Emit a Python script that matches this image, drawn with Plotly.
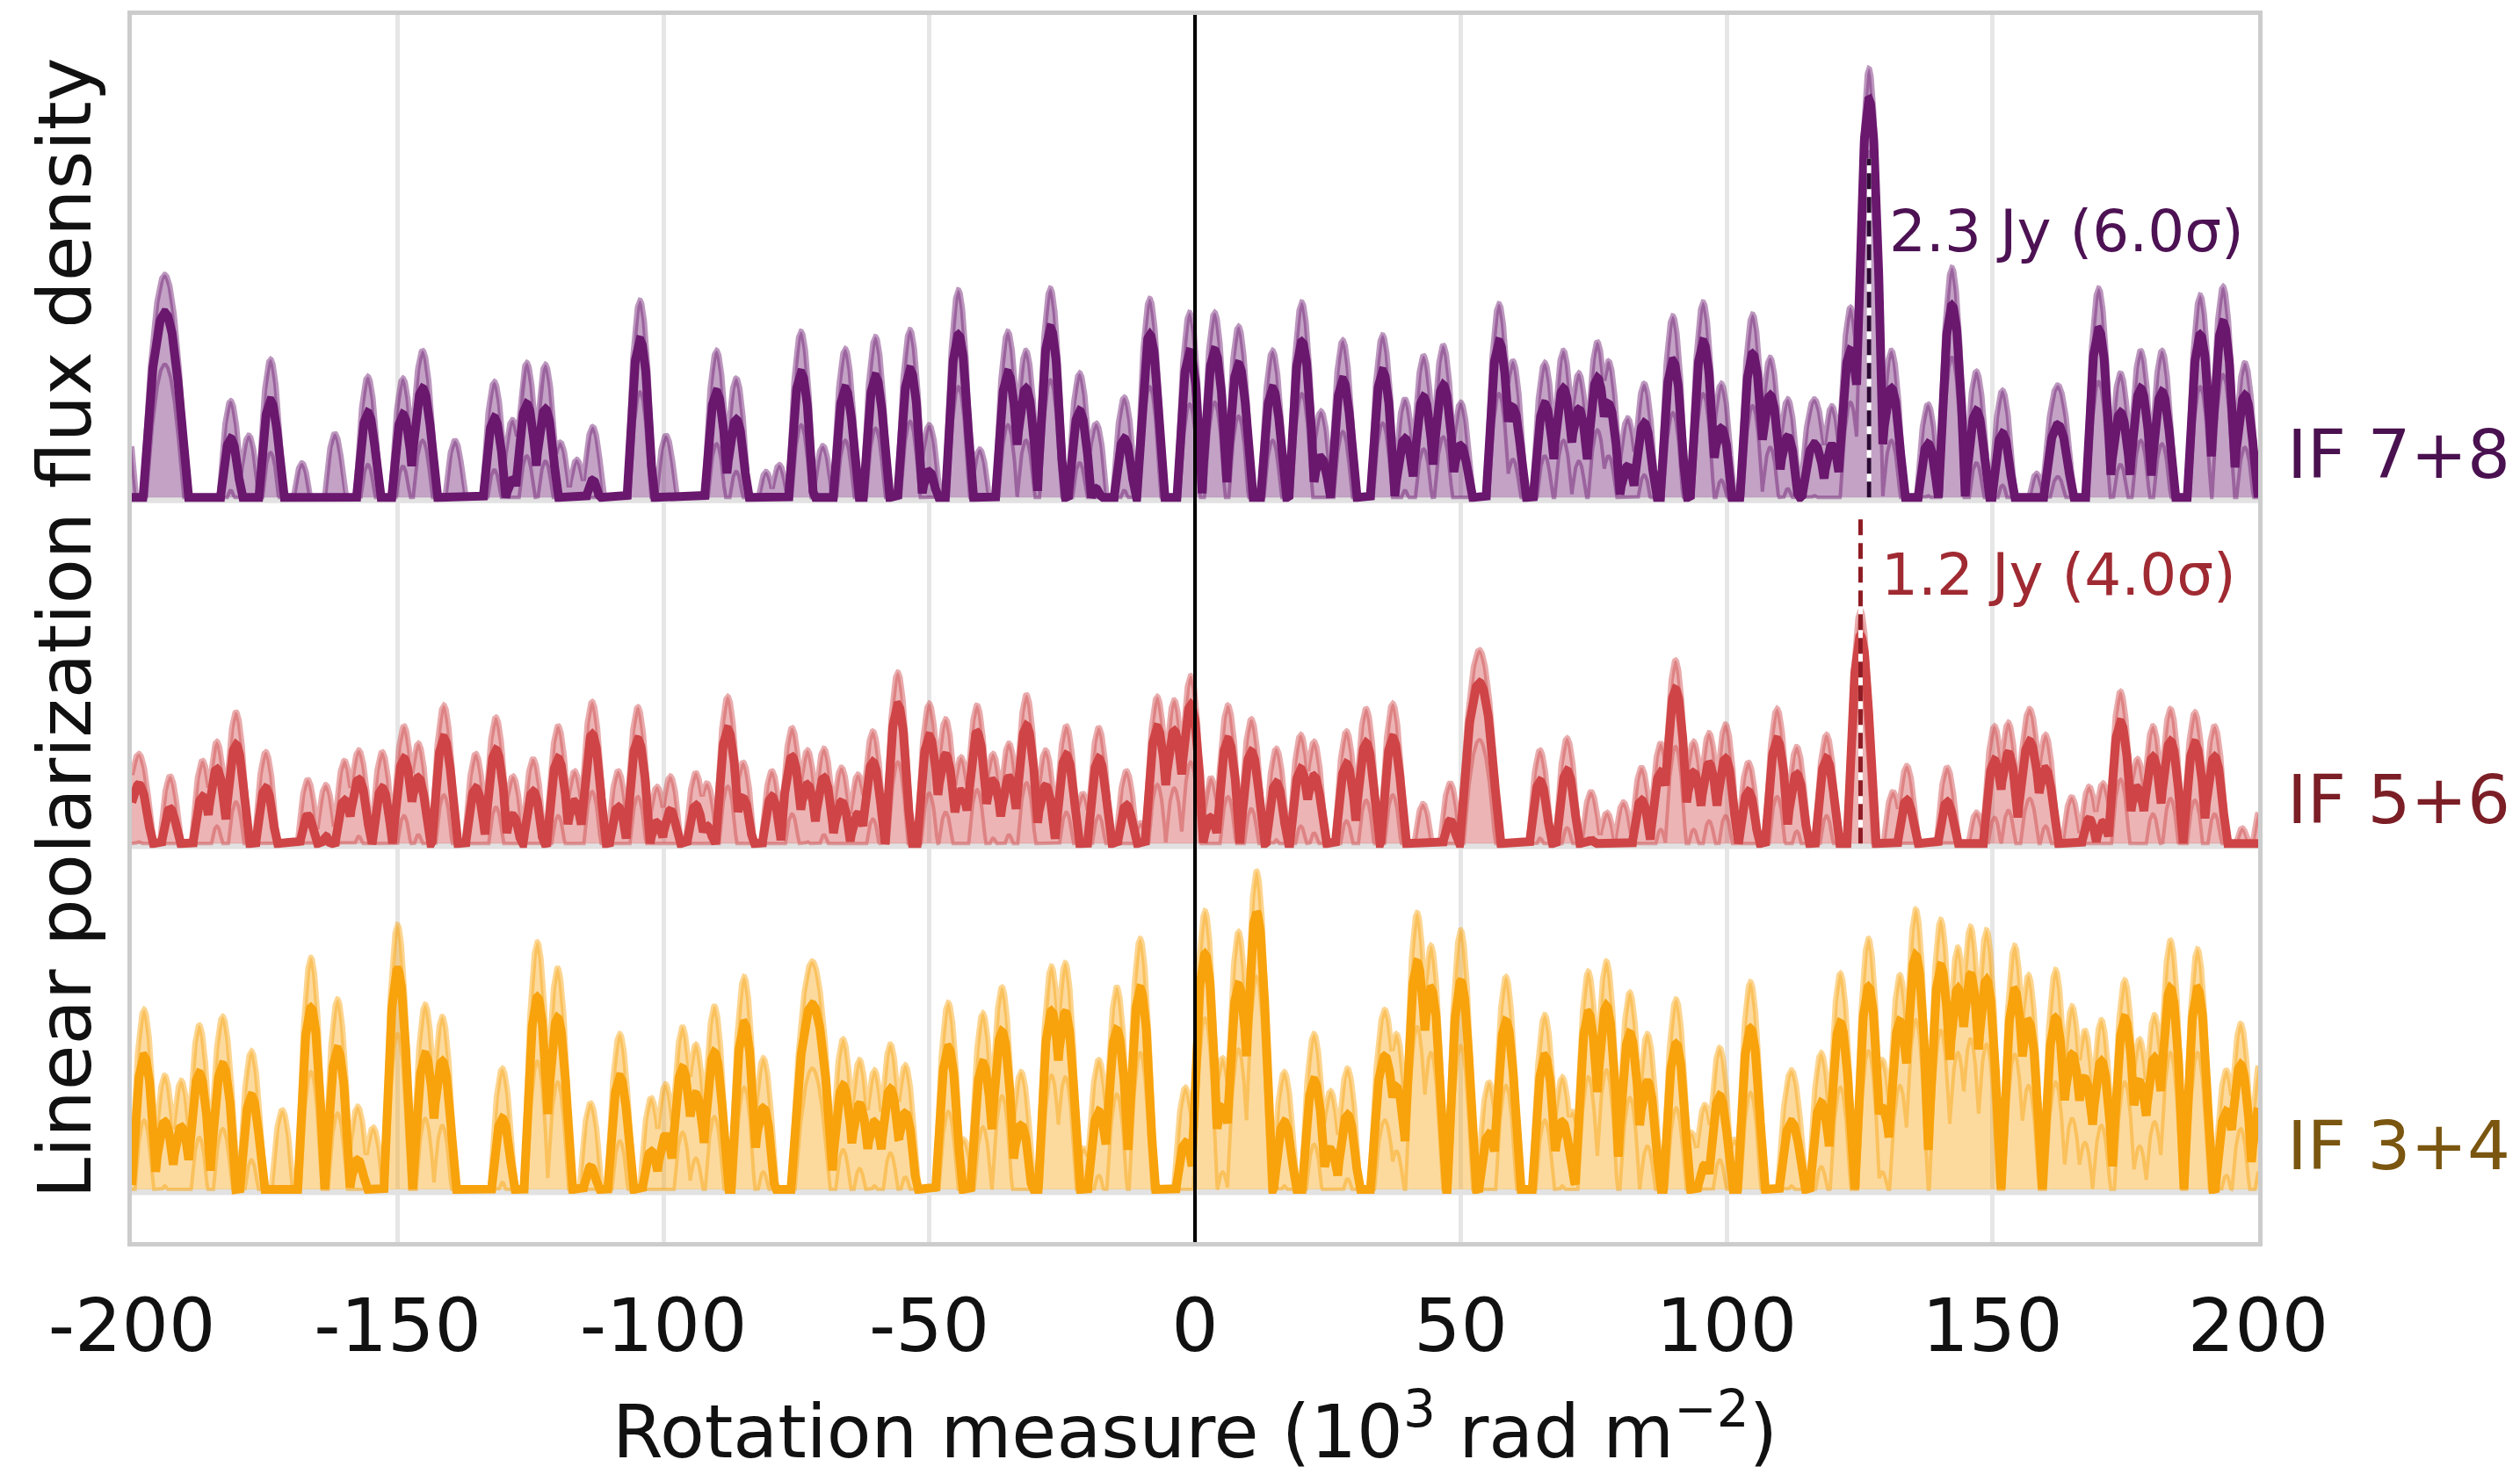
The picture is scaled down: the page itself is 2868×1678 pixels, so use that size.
import numpy as np
import plotly.graph_objects as go

# ---------------------------------------------------------------------------
# Faraday spectra of the three IF pairs.
# For every spectral peak: rotation measure (10^3 rad m^-2), polarized flux
# of the best estimate and of the upper envelope (Jy). Negative peak values
# mean the peak only emerges in the upper envelope.
# ---------------------------------------------------------------------------

rm_78 = [-201.2, -193.8, -181.4, -178.0, -173.9, -168.0, -161.8, -155.6, -149.0, -145.3,
         -139.2, -131.8, -128.4, -125.7, -122.2, -119.4, -116.3, -113.3, -104.4, -99.5,
         -90.0, -86.3, -80.7, -78.2, -74.1, -70.0, -65.8, -60.1, -53.6, -50.0,
         -44.5, -40.5, -35.2, -31.8, -27.2, -21.7, -18.6, -13.3, -8.5, -1.0,
         3.7, 8.2, 14.6, 20.1, 23.7, 27.8, 35.3, 39.5, 43.0, 46.7,
         50.0, 57.2, 59.8, 65.8, 69.3, 72.2, 75.7, 77.8, 81.4, 84.5,
         89.9, 95.6, 99.0, 104.9, 108.2, 111.5, 116.5, 119.8, 123.3, 126.8,
         131.0, 137.9, 142.4, 147.0, 151.9, 158.3, 162.3, 170.0, 174.1, 177.9,
         181.9, 189.1, 193.4, 197.5]
peak_78 = [-0.10, 1.07, 0.34, -0.05, 0.56, -0.10, -0.05, 0.49, 0.48, 0.63,
           -0.05, 0.46, 0.10, 0.54, 0.51, -0.05, -0.10, 0.10, 0.91, -0.05,
           0.61, 0.45, -0.15, -0.12, 0.72, -0.05, 0.63, 0.70, 0.74, 0.15,
           0.94, -0.05, 0.72, 0.63, 0.98, 0.50, 0.05, 0.34, 0.94, 0.84,
           0.85, 0.77, 0.63, 0.90, 0.23, 0.68, 0.73, 0.34, 0.58, 0.65,
           0.30, 0.90, 0.52, 0.54, 0.63, 0.51, 0.69, 0.54, 0.18, 0.43,
           0.79, 0.90, 0.40, 0.83, 0.59, 0.35, 0.31, 0.30, 0.85, 2.30,
           0.63, 0.31, 1.11, 0.50, 0.37, -0.10, 0.42, 0.97, 0.49, 0.63,
           0.61, 0.94, 1.01, 0.59]
upper_78 = [0.45, 1.29, 0.56, 0.36, 0.80, 0.20, 0.37, 0.70, 0.69, 0.85,
            0.33, 0.67, 0.45, 0.78, 0.77, 0.32, 0.22, 0.41, 1.14, 0.36,
            0.85, 0.69, 0.15, 0.19, 0.96, 0.30, 0.86, 0.93, 0.97, 0.42,
            1.20, 0.28, 0.96, 0.85, 1.21, 0.72, 0.43, 0.58, 1.15, 1.07,
            1.07, 0.99, 0.85, 1.13, 0.50, 0.91, 0.94, 0.57, 0.82, 0.88,
            0.55, 1.12, 0.79, 0.78, 0.85, 0.72, 0.90, 0.79, 0.46, 0.66,
            1.05, 1.13, 0.66, 1.06, 0.81, 0.57, 0.57, 0.53, 1.10, 2.48,
            0.85, 0.54, 1.33, 0.73, 0.62, 0.14, 0.65, 1.21, 0.72, 0.85,
            0.85, 1.17, 1.22, 0.78]
broad_78 = {-193.8: 5.0, -145.3: 3.3, 116.5: 3.8, 162.3: 4.0}

rm_56 = [-198.7, -192.8, -186.7, -184.0, -180.4, -174.8, -166.9, -163.5, -160.0, -157.3,
         -152.9, -148.8, -146.1, -141.3, -135.3, -131.5, -128.3, -124.5, -119.8, -116.7,
         -113.4, -108.5, -104.8, -101.2, -98.7, -93.9, -91.8, -87.9, -85.0, -79.6,
         -75.8, -72.9, -69.8, -66.5, -63.4, -60.6, -55.9, -50.0, -46.9, -44.0,
         -41.0, -38.0, -35.0, -31.7, -28.1, -24.2, -21.1, -18.1, -12.9, -10.2,
         -7.1, -3.9, -0.8, 3.0, 6.2, 10.6, 15.3, 19.9, 22.4, 28.5,
         32.2, 37.2, 42.9, 48.0, 53.5, 64.9, 70.0, 74.5, 77.5, 80.6,
         84.0, 87.6, 90.4, 93.8, 96.7, 99.8, 104.1, 109.5, 113.2, 118.8,
         125.2, 131.3, 133.9, 141.5, 147.0, 150.4, 153.0, 157.0, 160.0, 164.9,
         168.2, 170.8, 174.1, 177.3, 180.2, 183.5, 188.1, 191.8, 197.0, 200.5]
peak_56 = [0.34, 0.20, 0.27, 0.43, 0.57, 0.32, 0.16, 0.04, 0.25, 0.37,
           0.32, 0.49, 0.38, 0.61, 0.32, 0.54, 0.16, 0.30, 0.49, 0.24,
           0.63, 0.21, 0.60, 0.12, 0.19, 0.22, 0.10, 0.66, 0.26, 0.27,
           0.50, 0.34, 0.38, 0.24, 0.17, 0.47, 0.80, 0.62, 0.51, 0.30,
           0.64, 0.36, 0.38, 0.68, 0.33, 0.51, -0.05, 0.49, 0.22, -0.10,
           0.67, 0.65, 0.80, 0.15, 0.60, 0.53, 0.35, 0.43, 0.39, 0.46,
           0.58, 0.61, -0.05, 0.13, 0.93, 0.36, 0.42, 0.02, -0.05, -0.05,
           0.25, 0.41, 0.89, 0.41, 0.46, 0.49, 0.30, 0.60, 0.40, 0.49,
           1.20, -0.05, 0.25, 0.24, -0.10, 0.48, 0.52, 0.59, 0.43, -0.02,
           0.14, 0.12, 0.70, 0.32, 0.50, 0.59, 0.58, 0.50, -0.15, -0.10]
upper_56 = [0.52, 0.39, 0.48, 0.59, 0.76, 0.53, 0.37, 0.34, 0.48, 0.54,
            0.53, 0.68, 0.58, 0.80, 0.52, 0.73, 0.39, 0.49, 0.68, 0.42,
            0.82, 0.42, 0.79, 0.33, 0.39, 0.41, 0.35, 0.85, 0.47, 0.42,
            0.67, 0.54, 0.55, 0.44, 0.40, 0.65, 0.99, 0.81, 0.72, 0.50,
            0.80, 0.52, 0.58, 0.86, 0.54, 0.68, 0.29, 0.67, 0.42, 0.12,
            0.85, 0.83, 0.97, 0.38, 0.80, 0.72, 0.55, 0.63, 0.59, 0.65,
            0.78, 0.81, 0.23, 0.35, 1.12, 0.54, 0.61, 0.30, 0.18, 0.24,
            0.44, 0.58, 1.06, 0.59, 0.64, 0.69, 0.47, 0.78, 0.56, 0.63,
            1.35, 0.30, 0.45, 0.44, 0.18, 0.68, 0.70, 0.78, 0.63, 0.27,
            0.33, 0.35, 0.88, 0.49, 0.68, 0.78, 0.76, 0.68, 0.09, 0.20]
broad_56 = {-198.7: 3.8, -157.3: 3.3, 53.5: 4.6, 157.0: 3.5}

rm_34 = [-197.7, -193.8, -190.7, -187.3, -182.9, -177.5, -171.7, -166.3, -161.3, -157.5,
         -154.6, -150.0, -144.8, -141.6, -130.3, -123.7, -119.9, -113.7, -108.2, -102.3,
         -99.6, -96.4, -93.9, -90.4, -84.8, -81.2, -72.0, -66.2, -63.1, -60.3,
         -57.3, -54.5, -46.4, -43.5, -39.9, -36.3, -32.7, -27.0, -24.4, -20.9,
         -18.1, -14.7, -10.3, -1.8, 1.9, 5.2, 8.2, 11.6, 16.8, 22.4,
         25.5, 28.7, 35.7, 37.9, 41.8, 44.4, 50.0, 53.0, 55.3, 58.5,
         65.8, 69.1, 71.0, 74.0, 77.4, 81.8, 85.1, 90.5, 93.4, 95.9,
         98.7, 101.5, 104.5, 112.2, 117.8, 121.4, 126.7, 129.3, 132.6, 135.6,
         140.3, 143.5, 145.9, 148.9, 154.2, 156.8, 161.9, 165.0, 167.4, 170.5,
         174.9, 177.7, 180.5, 183.5, 188.6, 191.5, 194.0, 196.7, 200.5]
peak_34 = [0.77, 0.39, 0.36, 0.67, 0.72, 0.54, -0.02, 1.05, 0.81, 0.17,
           -0.05, 1.27, 0.78, 0.74, 0.41, 1.11, 0.99, 0.13, 0.65, 0.22,
           0.31, 0.70, 0.55, 0.79, 0.96, 0.47, 1.07, 0.60, 0.49, 0.39,
           0.58, 0.44, 0.82, -0.05, 0.73, 0.91, 0.37, 1.03, 1.02, -0.05,
           0.45, 0.92, 1.16, 0.27, 1.36, 0.47, 1.18, 1.60, 0.39, 0.63,
           0.23, 0.43, 0.77, 0.59, 1.31, 1.16, 1.20, -0.10, 0.32, 0.97,
           0.77, 0.39, 0.05, 1.02, 1.06, 0.90, 0.62, 0.84, -0.05, 0.14,
           0.54, -0.05, 0.93, 0.39, 0.50, 0.96, 1.17, 0.47, 0.97, 1.35,
           1.29, 1.16, 1.24, 1.21, 1.15, 0.97, 0.99, 0.78, 0.64, 0.74,
           0.99, 0.62, 0.76, 1.16, 1.16, -0.05, 0.45, 0.72, 0.50]
upper_34 = [1.04, 0.66, 0.63, 0.95, 1.00, 0.80, 0.46, 1.34, 1.10, 0.48,
            0.36, 1.53, 1.07, 1.00, 0.70, 1.43, 1.28, 0.50, 0.90, 0.53,
            0.61, 0.94, 0.84, 1.06, 1.23, 0.76, 1.32, 0.87, 0.75, 0.69,
            0.84, 0.72, 1.08, 0.29, 1.02, 1.17, 0.68, 1.29, 1.31, 0.24,
            0.75, 1.17, 1.45, 0.59, 1.61, 0.76, 1.49, 1.84, 0.68, 0.90,
            0.57, 0.70, 1.04, 0.90, 1.60, 1.41, 1.50, 0.15, 0.62, 1.23,
            1.01, 0.65, 0.45, 1.26, 1.32, 1.14, 0.90, 1.10, 0.33, 0.49,
            0.82, 0.29, 1.20, 0.69, 0.79, 1.25, 1.45, 0.75, 1.24, 1.62,
            1.56, 1.40, 1.52, 1.50, 1.41, 1.24, 1.27, 1.06, 0.92, 0.98,
            1.21, 0.87, 1.01, 1.44, 1.39, 0.26, 0.69, 0.96, 0.75]
broad_34 = {-182.9: 3.3, -72.0: 4.9, 35.7: 3.5, 112.2: 3.5}

# Depth of the lower envelope below the best estimate (Jy)
lower_depth = {"78": 0.30, "56": 0.33, "34": 0.37}

# Detections marked on the spectra: RM, flux (Jy), significance
det_rm = [126.8, 125.2]
det_flux = [2.3, 1.2]
det_sigma = [6.0, 4.0]

tick_vals = [-200, -150, -100, -50, 0, 50, 100, 150, 200]
tick_text = ["-200", "-150", "-100", "-50", "0", "50", "100", "150", "200"]

# ---------------------------------------------------------------------------
# Peak profile: a parabolic RMSF main lobe sitting on a bias level that is
# subtracted and clipped at zero.
# ---------------------------------------------------------------------------
LOBE_W = 3.05
BIAS = 0.54
rm_axis = np.linspace(-200.0, 200.0, 8001)


def spectrum(pos, flux, widths):
    pos = np.asarray(pos, float)[:, None]
    amp = np.asarray(flux, float)[:, None] + BIAS
    w = np.asarray(widths, float)[:, None]
    u = (rm_axis[None, :] - pos) / w
    return (amp * (1.0 - u ** 2) - BIAS).max(axis=0)


FONT = "DejaVu Sans"
series = [
    # key, label, offset, rm, peak, upper, broad, rgb, label colour
    ("34", "IF 3+4", 0.0, rm_34, peak_34, upper_34, broad_34, (248, 162, 12), "#7a5610"),
    ("56", "IF 5+6", 2.0, rm_56, peak_56, upper_56, broad_56, (207, 68, 70), "#7b1e26"),
    ("78", "IF 7+8", 4.0, rm_78, peak_78, upper_78, broad_78, (106, 23, 110), "#4a1150"),
]

fig = go.Figure()

for key, label, off, rm, pk, up, broad, rgb, lab_col in series:
    widths = [broad.get(p, LOBE_W) for p in rm]
    raw = spectrum(rm, pk, widths)
    main = np.clip(raw, 0, None)
    upper = np.clip(spectrum(rm, up, widths), 0, None)
    lower = np.clip(raw - lower_depth[key], 0, None)
    r, g, b = rgb
    solid = f"rgb({r},{g},{b})"
    soft = f"rgba({r},{g},{b},0.45)"
    fillc = f"rgba({r},{g},{b},0.40)"

    # zero level of the spectrum
    fig.add_trace(go.Scatter(x=[-200, 200], y=[off - 0.015, off - 0.015], mode="lines",
                             line=dict(color="#e2e2e2", width=7), hoverinfo="skip",
                             showlegend=False))
    # shaded envelope
    fig.add_trace(go.Scatter(x=np.concatenate([rm_axis, rm_axis[::-1]]),
                             y=np.concatenate([off + upper, np.full(rm_axis.size, off)]),
                             mode="lines", fill="toself", fillcolor=fillc,
                             line=dict(width=0), hoverinfo="skip", showlegend=False))
    fig.add_trace(go.Scatter(x=rm_axis, y=off + lower, mode="lines",
                             line=dict(color=soft, width=4), hoverinfo="skip",
                             showlegend=False))
    fig.add_trace(go.Scatter(x=rm_axis, y=off + upper, mode="lines",
                             line=dict(color=soft, width=6), hoverinfo="skip",
                             showlegend=False))
    fig.add_trace(go.Scatter(x=rm_axis, y=off + main, mode="lines",
                             line=dict(color=solid, width=10), name=label,
                             showlegend=False))

    fig.add_annotation(x=1.0128, xref="paper", y=off + 0.25, yref="y", text=label,
                       showarrow=False, xanchor="left", yanchor="middle",
                       font=dict(family=FONT, size=77, color=lab_col))

# Detection markers and labels
det_style = [
    (4.0, 1.96, "#2d0a33", "#4d1253", 1.54),
    (2.0, 1.91, "#8e1c24", "#a02a32", 1.55),
]
for (base, top, dcol, tcol, ty), rm0, flux, sig in zip(det_style, det_rm, det_flux, det_sigma):
    fig.add_trace(go.Scatter(x=[rm0, rm0], y=[base, base + top], mode="lines",
                             line=dict(color="white", width=5), hoverinfo="skip",
                             showlegend=False))
    fig.add_trace(go.Scatter(x=[rm0, rm0], y=[base, base + top], mode="lines",
                             line=dict(color=dcol, width=5, dash="18px,9px"),
                             hoverinfo="skip", showlegend=False))
    fig.add_annotation(x=rm0 + 3.5, y=base + ty, xref="x", yref="y",
                       text=f"{flux:.1f} Jy ({sig:.1f}σ)", showarrow=False,
                       xanchor="left", yanchor="middle",
                       font=dict(family=FONT, size=66, color=tcol))

# RM = 0 reference line
fig.add_shape(type="line", x0=0, x1=0, y0=0, y1=1, xref="x", yref="paper",
              line=dict(color="black", width=4), layer="above")

fig.add_annotation(x=0.5, xref="paper", y=-0.151, yref="paper",
                   text="Rotation measure (10<sup>3</sup> rad m<sup>−2</sup>)",
                   showarrow=False, xanchor="center", yanchor="middle",
                   font=dict(family=FONT, size=83, color="#111111"))
fig.add_annotation(x=-0.0318, xref="paper", y=0.5, yref="paper",
                   text="Linear polarization flux density", textangle=-90,
                   showarrow=False, xanchor="center", yanchor="middle",
                   font=dict(family=FONT, size=84, color="#111111"))

fig.update_layout(
    width=2868, height=1678,
    margin=dict(l=150, r=298, t=15, b=264),
    paper_bgcolor="white", plot_bgcolor="white",
    font=dict(family=FONT, color="#111111"),
    xaxis=dict(range=[-200, 200], tickmode="array", tickvals=tick_vals, ticktext=tick_text,
               showgrid=True, gridcolor="#e6e6e6", gridwidth=5, zeroline=False,
               showline=True, mirror=True, linecolor="#cccccc", linewidth=5,
               ticks="", ticklabelstandoff=18,
               tickfont=dict(family=FONT, size=84, color="#111111")),
    yaxis=dict(range=[-0.305, 6.79], showticklabels=False, showgrid=False, zeroline=False,
               showline=True, mirror=True, linecolor="#cccccc", linewidth=5, ticks=""),
)

fig.write_html("out.html")
